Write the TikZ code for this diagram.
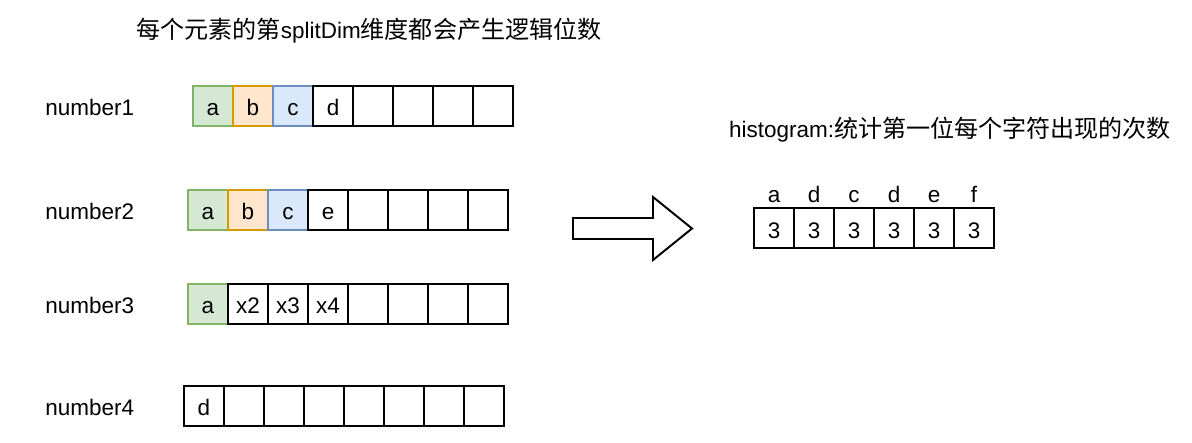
\documentclass[tikz,border=0pt]{standalone}
\usepackage{fontspec}
\setmainfont{Liberation Sans}
\newfontfamily\cjk[Scale=1.07]{Noto Sans CJK SC}
\usetikzlibrary{positioning}
\definecolor{greenfill}{HTML}{D5E8D4}
\definecolor{greenline}{HTML}{82B366}
\definecolor{orangefill}{HTML}{FFE6CC}
\definecolor{orangeline}{HTML}{D79B00}
\definecolor{bluefill}{HTML}{DAE8FC}
\definecolor{blueline}{HTML}{6C8EBF}
\tikzset{
 cell/.style={draw=black, line width=1.4pt, minimum width=1cm, minimum height=1cm,
  inner sep=0pt, outer sep=0pt, text height=0.48cm, text depth=0pt,
  font=\fontsize{16}{19}\selectfont},
 greencell/.style={fill=greenfill, draw=greenline},
 orangecell/.style={fill=orangefill, draw=orangeline},
 bluecell/.style={fill=bluefill, draw=blueline},
 rowlabel/.style={anchor=west, inner sep=0pt, text height=0.48cm, text depth=0pt,
  font=\fontsize{16}{19}\selectfont},
 hlabel/.style={inner sep=0pt, text height=1.6ex, text depth=0pt, font=\fontsize{16}{19}\selectfont}
}
% one cell, put to the right of the cell before
\newcommand{\cell}[4]{%
 \node[cell,#4] (#1) [right=0pt of #2] {#3};%
}
\begin{document}
\begin{tikzpicture}
  \useasboundingbox (0,0) rectangle (29.8,11.05);
  \node[inner sep=0pt, font=\fontsize{16}{19}\selectfont] (title) at (9.225,10.275)
   {{\cjk 每个元素的第}splitDim{\cjk 维度都会产生逻辑位数}};
  % number1
  \node[rowlabel] (lab1) at (1.125,8.4) {number1};
  \node[cell,greencell] (n1c1) at (5.325,8.4) {a};
  \cell{n1c2}{n1c1}{b}{orangecell}
  \cell{n1c3}{n1c2}{c}{bluecell}
  \cell{n1c4}{n1c3}{d}{}
  \cell{n1c5}{n1c4}{}{}
  \cell{n1c6}{n1c5}{}{}
  \cell{n1c7}{n1c6}{}{}
  \cell{n1c8}{n1c7}{}{}
  % number2
  \node[rowlabel] (lab2) at (1.125,5.81) {number2};
  \node[cell,greencell] (n2c1) at (5.2,5.81) {a};
  \cell{n2c2}{n2c1}{b}{orangecell}
  \cell{n2c3}{n2c2}{c}{bluecell}
  \cell{n2c4}{n2c3}{e}{}
  \cell{n2c5}{n2c4}{}{}
  \cell{n2c6}{n2c5}{}{}
  \cell{n2c7}{n2c6}{}{}
  \cell{n2c8}{n2c7}{}{}
  % number3
  \node[rowlabel] (lab3) at (1.125,3.46) {number3};
  \node[cell,greencell] (n3c1) at (5.2,3.46) {a};
  \cell{n3c2}{n3c1}{x2}{}
  \cell{n3c3}{n3c2}{x3}{}
  \cell{n3c4}{n3c3}{x4}{}
  \cell{n3c5}{n3c4}{}{}
  \cell{n3c6}{n3c5}{}{}
  \cell{n3c7}{n3c6}{}{}
  \cell{n3c8}{n3c7}{}{}
  % number4
  \node[rowlabel] (lab4) at (1.125,0.91) {number4};
  \node[cell] (n4c1) at (5.1,0.91) {d};
  \cell{n4c2}{n4c1}{}{}
  \cell{n4c3}{n4c2}{}{}
  \cell{n4c4}{n4c3}{}{}
  \cell{n4c5}{n4c4}{}{}
  \cell{n4c6}{n4c5}{}{}
  \cell{n4c7}{n4c6}{}{}
  \cell{n4c8}{n4c7}{}{}
  % big arrow
  \draw[line width=1.4pt, fill=white] (14.325,5.6) -- (16.325,5.6) -- (16.325,6.125)
   -- (17.3,5.3375) -- (16.325,4.55) -- (16.325,5.075) -- (14.325,5.075) -- cycle;
  % histogram
  \node[inner sep=0pt, font=\fontsize{16}{19}\selectfont] (htitle) at (23.75,7.8)
   {histogram:{\cjk 统计第一位每个字符出现的次数}};
  \node[cell] (h1) at (19.35,5.34) {3};
  \cell{h2}{h1}{3}{}
  \cell{h3}{h2}{3}{}
  \cell{h4}{h3}{3}{}
  \cell{h5}{h4}{3}{}
  \cell{h6}{h5}{3}{}
  \node[hlabel, above=0.135cm of h1] (k1) {a};
  \node[hlabel, above=0.135cm of h2] (k2) {d};
  \node[hlabel, above=0.135cm of h3] (k3) {c};
  \node[hlabel, above=0.135cm of h4] (k4) {d};
  \node[hlabel, above=0.135cm of h5] (k5) {e};
  \node[hlabel, above=0.135cm of h6] (k6) {f};
\end{tikzpicture}
\end{document}
